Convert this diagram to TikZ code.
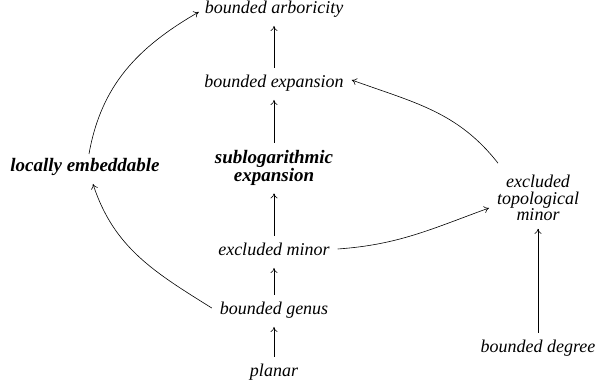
\documentclass[tikz,border=0pt]{standalone}
\usepackage{fontspec}
\setmainfont{Liberation Serif}
\usetikzlibrary{arrows.meta}
\begin{document}
\begin{tikzpicture}[x=1pt,y=1pt,
  lbl/.style={font=\fontsize{18}{17}\selectfont\itshape, inner sep=0pt, outer sep=8pt, text height=12pt, text depth=4pt, anchor=base},
  blbl/.style={lbl, font=\fontsize{19}{17}\selectfont\bfseries\itshape},
  mlbl/.style={font=\fontsize{18}{16.5}\selectfont\itshape, align=center, inner sep=0pt, outer sep=8pt, anchor=center},
  bmlbl/.style={mlbl, font=\fontsize{19}{17.5}\selectfont\bfseries\itshape},
  arr/.style={-{To[length=5pt,width=7pt]}, line width=0.6pt}]
\useasboundingbox (0,0) rectangle (595,385);
\node[lbl]  (arb) at (274,371) {bounded arboricity};
\node[lbl]  (exp) at (274,297) {bounded expansion};
\node[bmlbl] (sub) at (274,217) {sublogarithmic\\expansion};
\node[blbl] (loc) at (85,213) {locally embeddable};
\node[lbl]  (min) at (274,129) {excluded minor};
\node[lbl]  (gen) at (274,70) {bounded genus};
\node[lbl]  (pla) at (274,8) {planar};
\node[mlbl] (top) at (538,187) {excluded\\topological\\minor};
\node[lbl]  (deg) at (538,32) {bounded degree};

\draw[arr] (exp) -- (arb);
\draw[arr] (sub) -- (exp);
\draw[arr] (min) -- (sub);
\draw[arr] (gen) -- (min);
\draw[arr] (pla) -- (gen);
\draw[arr] (deg) -- (top);
\draw[arr] ([xshift=4pt,yshift=-2pt]loc.north) to[out=80,in=210] ([xshift=2pt,yshift=-2pt]arb.west);
\draw[arr] ([yshift=3pt]gen.west) to[out=148,in=-72] ([xshift=8pt]loc.south);
\draw[arr] ([yshift=3pt]min.east) to[out=4,in=200] ([yshift=-10pt]top.west);
\draw[arr] ([xshift=-40pt,yshift=4pt]top.north) to[out=128,in=-20] ([yshift=4pt]exp.east);
\end{tikzpicture}
\end{document}
